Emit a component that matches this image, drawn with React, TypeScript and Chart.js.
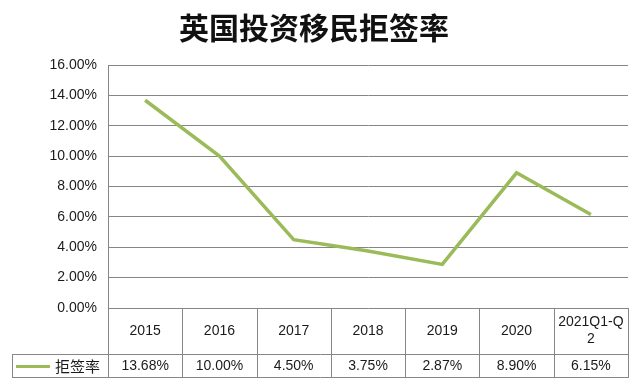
import React, { useEffect, useRef } from "react";
import { Chart, registerables } from "chart.js";

Chart.register(...registerables);

const TITLE = "英国投资移民拒签率";
const SERIES_NAME = "拒签率";
const CATEGORIES: string[][] = [["2015"], ["2016"], ["2017"], ["2018"], ["2019"], ["2020"], ["2021Q1-Q", "2"]];
const VALUES = [13.68, 10.0, 4.5, 3.75, 2.87, 8.9, 6.15];
const Y_MIN = 0;
const Y_MAX = 16;
const Y_STEP = 2;

const LINE_COLOR = "#9bbb59";
const GRID_COLOR = "#868686";
const TEXT_COLOR = "#1a1a1a";
const FONT = "'Liberation Sans', 'Noto Sans CJK SC', sans-serif";

const fmt = (v: number) => v.toFixed(2) + "%";

const tablePlugin = {
  id: "dataTable",
  afterDraw(chart: any) {
    const ctx = chart.ctx as CanvasRenderingContext2D;
    const area = chart.chartArea;
    const xs = chart.scales.x;
    const n = CATEGORIES.length;
    const colW = (area.right - area.left) / n;
    const headerBottom = area.bottom + 46;
    const rowBottom = headerBottom + 23;
    const tableLeft = 12;
    ctx.save();
    ctx.strokeStyle = GRID_COLOR;
    ctx.lineWidth = 1;
    ctx.beginPath();
    for (let i = 0; i <= n; i++) {
      const x = Math.round(area.left + i * colW) + 0.5;
      ctx.moveTo(x, area.bottom);
      ctx.lineTo(x, rowBottom);
    }
    ctx.moveTo(tableLeft + 0.5, headerBottom);
    ctx.lineTo(tableLeft + 0.5, rowBottom);
    ctx.moveTo(tableLeft, Math.round(headerBottom) + 0.5);
    ctx.lineTo(area.right + 1, Math.round(headerBottom) + 0.5);
    ctx.moveTo(tableLeft, Math.round(rowBottom) + 0.5);
    ctx.lineTo(area.right + 1, Math.round(rowBottom) + 0.5);
    ctx.stroke();

    // header labels (categories)
    ctx.fillStyle = TEXT_COLOR;
    ctx.font = "14px " + FONT;
    ctx.textBaseline = "middle";
    ctx.textAlign = "center";
    const headMid = (area.bottom + headerBottom) / 2;
    const lh = 17;
    CATEGORIES.forEach((lines, i) => {
      const x = xs.getPixelForValue(i);
      const start = headMid - ((lines.length - 1) * lh) / 2;
      lines.forEach((t, j) => ctx.fillText(t, x, start + j * lh));
    });

    const midY = (headerBottom + rowBottom) / 2 + 1;
    // legend key
    ctx.strokeStyle = LINE_COLOR;
    ctx.lineWidth = 3;
    ctx.beginPath();
    ctx.moveTo(16, midY);
    ctx.lineTo(50, midY);
    ctx.stroke();
    ctx.font = "15px 'Noto Sans CJK SC', sans-serif";
    ctx.textAlign = "left";
    ctx.fillText(SERIES_NAME, 55, midY);

    ctx.font = "14px " + FONT;
    ctx.textAlign = "center";
    VALUES.forEach((v, i) => {
      const x = xs.getPixelForValue(i);
      ctx.fillText(fmt(v), x, midY);
    });
    ctx.restore();
  },
};

export default function App() {
  const ref = useRef<HTMLCanvasElement | null>(null);
  useEffect(() => {
    if (!ref.current) return;
    const chart = new Chart(ref.current, {
      type: "line",
      data: {
        labels: CATEGORIES.map((c) => c.join("")),
        datasets: [
          {
            label: SERIES_NAME,
            data: VALUES,
            borderColor: LINE_COLOR,
            backgroundColor: LINE_COLOR,
            borderWidth: 3.5,
            pointRadius: 0,
            tension: 0,
          },
        ],
      },
      options: {
        responsive: false,
        animation: false,
        devicePixelRatio: 1,
        layout: { padding: { left: 0, right: 12, top: 0, bottom: 33 } },
        plugins: {
          legend: { display: false },
          tooltip: { enabled: false },
          title: {
            display: true,
            text: TITLE,
            color: "#111",
            font: { family: "'Noto Sans CJK SC', serif", size: 30, weight: "bold", lineHeight: 1.2 },
            padding: { top: 10, bottom: 19 },
          },
        },
        scales: {
          x: {
            offset: true,
            grid: { display: false },
            border: { display: false },
            ticks: { display: false },
            afterFit: (scale: any) => {
              scale.height = 46;
            },
          },
          y: {
            min: Y_MIN,
            max: Y_MAX,
            grid: { color: GRID_COLOR, lineWidth: 1, drawTicks: false },
            border: { display: true, color: GRID_COLOR, width: 1 },
            ticks: {
              stepSize: Y_STEP,
              color: TEXT_COLOR,
              font: { family: FONT, size: 14 },
              padding: 11,
              callback: (v: any) => fmt(Number(v)),
            },
            afterFit: (scale: any) => {
              scale.width = 108;
            },
          },
        },
      },
      plugins: [tablePlugin],
    });
    return () => chart.destroy();
  }, []);
  return (
    <div style={{ position: "fixed", left: 0, top: 0, width: 640, height: 387, background: "#fff" }}>
      <canvas ref={ref} width={640} height={387} />
    </div>
  );
}
